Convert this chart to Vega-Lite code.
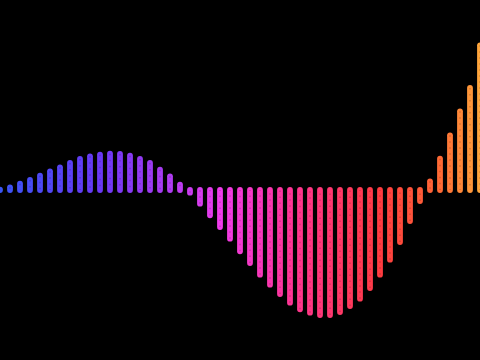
{
  "$schema": "https://vega.github.io/schema/vega-lite/v6.json",
  "width": 480,
  "height": 360,
  "autosize": {"type": "none"},
  "padding": 0,
  "background": "black",
  "config": {"view": {"stroke": null}},
  "data": {"values": [
    {"i": 0, "v": 0.3}, {"i": 1, "v": 2.7}, {"i": 2, "v": 6.3}, {"i": 3, "v": 10},
    {"i": 4, "v": 14.3}, {"i": 5, "v": 18.7}, {"i": 6, "v": 22.7}, {"i": 7, "v": 27},
    {"i": 8, "v": 31}, {"i": 9, "v": 33.7}, {"i": 10, "v": 35.3}, {"i": 11, "v": 36.3},
    {"i": 12, "v": 36}, {"i": 13, "v": 34.3}, {"i": 14, "v": 31}, {"i": 15, "v": 27},
    {"i": 16, "v": 20.3}, {"i": 17, "v": 13.7}, {"i": 18, "v": 5.3}, {"i": 19, "v": -2.7},
    {"i": 20, "v": -13.7}, {"i": 21, "v": -25.3}, {"i": 22, "v": -37}, {"i": 23, "v": -48.7},
    {"i": 24, "v": -61.3}, {"i": 25, "v": -73}, {"i": 26, "v": -84.7}, {"i": 27, "v": -94.7},
    {"i": 28, "v": -104}, {"i": 29, "v": -112.7}, {"i": 30, "v": -119.3}, {"i": 31, "v": -122.7},
    {"i": 32, "v": -125}, {"i": 33, "v": -125}, {"i": 34, "v": -122}, {"i": 35, "v": -116},
    {"i": 36, "v": -108.7}, {"i": 37, "v": -98}, {"i": 38, "v": -84.7}, {"i": 39, "v": -69.7},
    {"i": 40, "v": -52}, {"i": 41, "v": -31}, {"i": 42, "v": -11}, {"i": 43, "v": 8.7},
    {"i": 44, "v": 31.3}, {"i": 45, "v": 54.7}, {"i": 46, "v": 78.7}, {"i": 47, "v": 102},
    {"i": 48, "v": 144.7}
  ]},
  "encoding": {
    "x": {"field": "i", "type": "quantitative", "scale": {"domain": [0, 48], "nice": false, "zero": false}, "axis": null},
    "y": {"field": "v", "type": "quantitative", "scale": {"domain": [-170, 190], "nice": false}, "axis": null},
    "y2": {"datum": 0}
  },
  "layer": [
    {
      "mark": {"type": "rule", "strokeWidth": 5.8, "strokeCap": "round"},
      "encoding": {
        "color": {
          "field": "i", "type": "quantitative", "legend": null,
          "scale": {
            "domain": [0, 10, 17, 22, 29, 38, 44, 48],
            "range": ["#3a55f5", "#6a38f5", "#b03cf2", "#f03cec", "#ff3596", "#ff3c40", "#ff6a35", "#ffa53c"],
            "interpolate": "rgb"
          }
        }
      }
    },
    {
      "mark": {"type": "rule", "strokeWidth": 1.5, "strokeDash": [1.5, 4.5], "color": "black", "opacity": 0.18},
      "encoding": {}
    }
  ]
}
